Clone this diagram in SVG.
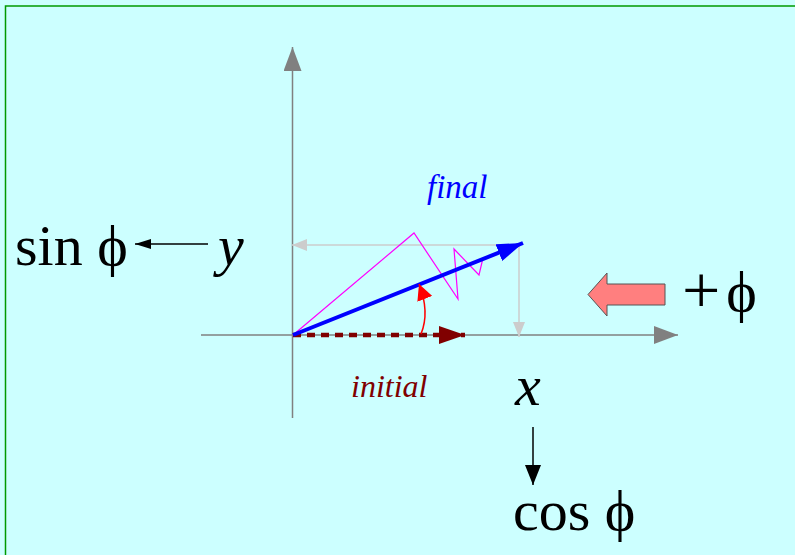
<svg xmlns="http://www.w3.org/2000/svg" width="795" height="555" viewBox="0 0 795 555">
<style>
.t{font-family:"Liberation Serif","DejaVu Serif","Times New Roman",serif;fill:#000}
.big{font-size:58px}
.it{font-style:italic}
</style>
<defs>
<marker id="ag" viewBox="0 0 24 18" refX="24" refY="9" markerWidth="24" markerHeight="18" markerUnits="userSpaceOnUse" orient="auto"><path d="M0,0 L24,9 L0,18 Z" fill="#808080"/></marker>
<marker id="al" viewBox="0 0 15 12" refX="15" refY="6" markerWidth="15" markerHeight="12" markerUnits="userSpaceOnUse" orient="auto"><path d="M0,0 L15,6 L0,12 Z" fill="#cccccc"/></marker>
<marker id="ab" viewBox="0 0 16 10" refX="16" refY="5" markerWidth="16" markerHeight="10" markerUnits="userSpaceOnUse" orient="auto"><path d="M0,0 L16,5 L0,10 Z" fill="#000"/></marker>
<marker id="ak" viewBox="0 0 20 16" refX="20" refY="8" markerWidth="20" markerHeight="16" markerUnits="userSpaceOnUse" orient="auto"><path d="M0,0 L20,8 L0,16 Z" fill="#000"/></marker>
<marker id="ablue" viewBox="0 0 26 18" refX="26" refY="9" markerWidth="26" markerHeight="18" markerUnits="userSpaceOnUse" orient="auto"><path d="M0,0 L26,9 L0,18 Z" fill="#0000ff"/></marker>
<marker id="ared" viewBox="0 0 26 18" refX="26" refY="9" markerWidth="26" markerHeight="18" markerUnits="userSpaceOnUse" orient="auto"><path d="M0,0 L26,9 L0,18 Z" fill="#800000"/></marker>
<marker id="arr" viewBox="0 0 16 16" refX="16" refY="8" markerWidth="16" markerHeight="16" markerUnits="userSpaceOnUse" orient="auto"><path d="M0,0 L16,8 L0,16 Z" fill="#ff0000"/></marker>
</defs>
<rect x="0" y="0" width="795" height="555" fill="#ccffff"/>
<path d="M5.5,560 V6 H800" fill="none" stroke="#009900" stroke-width="1.5"/>
<g id="axes">
<line x1="201" y1="335" x2="678" y2="335" stroke="#808080" stroke-width="1.5" marker-end="url(#ag)"/>
<line x1="292.5" y1="418" x2="292.5" y2="47" stroke="#808080" stroke-width="1.5" marker-end="url(#ag)"/>
</g>
<g id="connectors">
<line x1="519" y1="245" x2="292" y2="245" stroke="#cccccc" stroke-width="1.5" marker-end="url(#al)"/>
<line x1="519" y1="245" x2="519" y2="337" stroke="#cccccc" stroke-width="1.5" marker-end="url(#al)"/>
<polyline points="293,335 414,233 458,299 454,249 479,275 483,258" fill="none" stroke="#ff00ff" stroke-width="1.2"/>
<line x1="293" y1="335" x2="465" y2="335" stroke="#800000" stroke-width="4.5" stroke-dasharray="8,6" marker-end="url(#ared)"/>
<line x1="293" y1="335" x2="523" y2="243" stroke="#0000ff" stroke-width="4" marker-end="url(#ablue)"/>
<path d="M421,334 Q430,312 419,284" fill="none" stroke="#ff0000" stroke-width="1.5" marker-end="url(#arr)"/>
<line x1="208" y1="244" x2="135" y2="244" stroke="#000" stroke-width="1.5" marker-end="url(#ab)"/>
<line x1="533" y1="427" x2="533" y2="485" stroke="#000" stroke-width="1.5" marker-end="url(#ak)"/>
</g>
<g id="rotation-arrow">
<path d="M665,284 H607 V273 L588,294.5 L607,316 V305 H665 Z" fill="#ff7f7f" stroke="#555555" stroke-width="1"/>
</g>
<g id="labels">
<text class="t it" x="427" y="198" font-size="33" style="fill:#0000ff">final</text>
<text class="t it" x="351" y="397" font-size="32" style="fill:#800000">initial</text>
<text class="t big" x="15" y="265">sin ϕ</text>
<text class="t big it" x="218" y="265">y</text>
<text class="t big it" x="515" y="405">x</text>
<text class="t big" x="513" y="530">cos ϕ</text>
<text class="t big" x="682" y="311"><tspan font-size="68" dy="2">+</tspan><tspan dx="6" dy="-2">ϕ</tspan></text>
</g>
</svg>
